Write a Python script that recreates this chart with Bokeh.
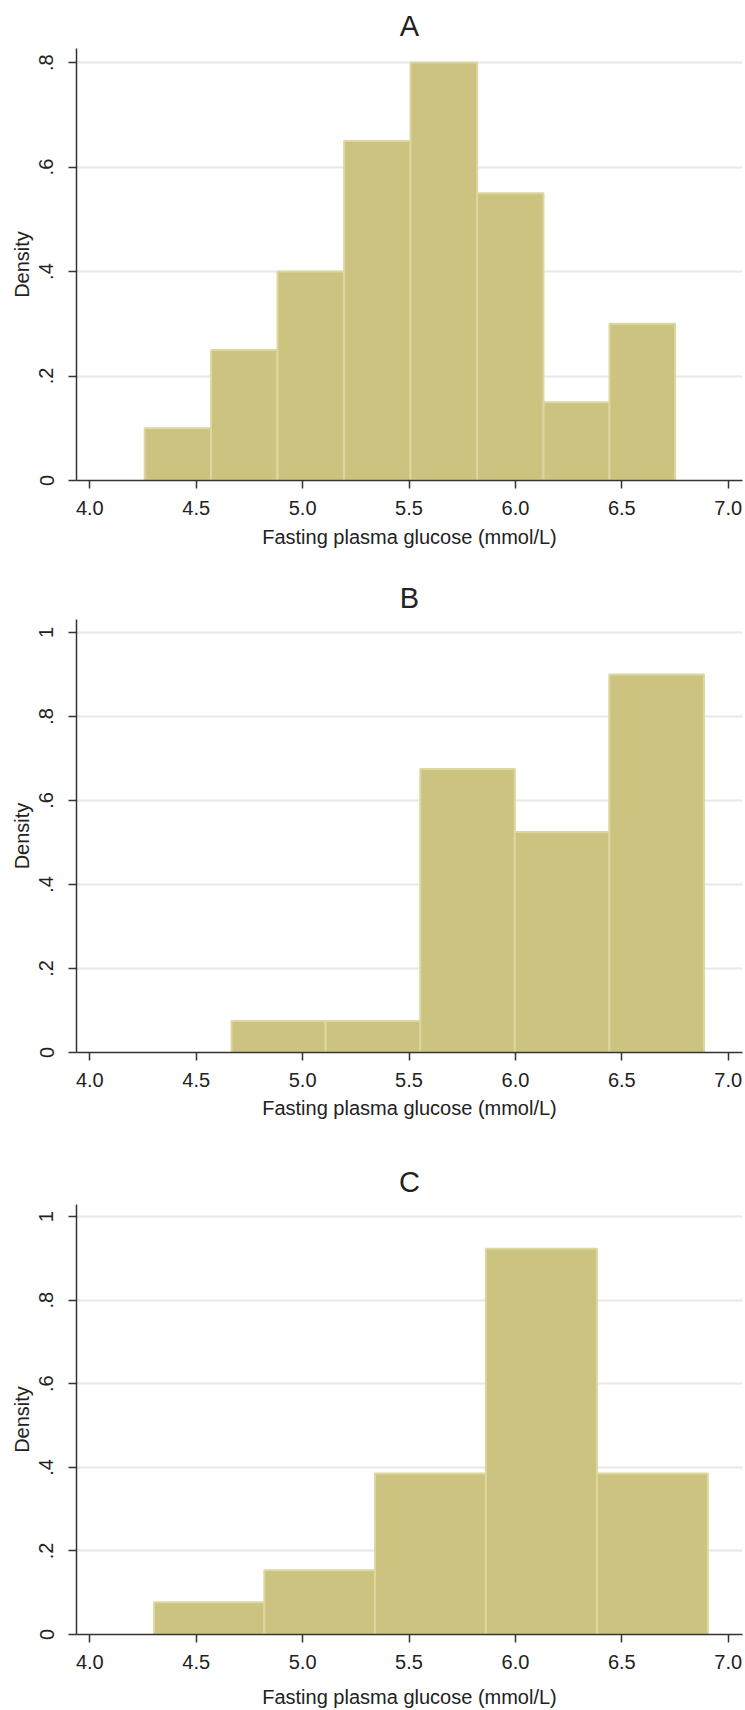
from bokeh.plotting import figure
from bokeh.layouts import column
from bokeh.models import Range1d, FixedTicker, ColumnDataSource
from bokeh.embed import file_html
from bokeh.resources import INLINE

# ---------------- data ----------------
panel_titles = ["A", "B", "C"]
x_label = "Fasting plasma glucose (mmol/L)"
y_label = "Density"
x_ticks = [4.0, 4.5, 5.0, 5.5, 6.0, 6.5, 7.0]
x_tick_labels = ["4.0", "4.5", "5.0", "5.5", "6.0", "6.5", "7.0"]

a_bin_edges = [4.258, 4.570, 4.882, 5.195, 5.507, 5.820, 6.132, 6.442, 6.750]
a_density = [0.10, 0.25, 0.40, 0.65, 0.80, 0.55, 0.15, 0.30]

b_bin_edges = [4.666, 5.108, 5.553, 5.997, 6.441, 6.886]
b_density = [0.075, 0.075, 0.675, 0.525, 0.90]

c_bin_edges = [4.302, 4.820, 5.340, 5.861, 6.383, 6.904]
c_density = [0.077, 0.154, 0.385, 0.923, 0.385]

a_y_ticks = [0, 0.2, 0.4, 0.6, 0.8]
a_y_tick_labels = ["0", ".2", ".4", ".6", ".8"]
bc_y_ticks = [0, 0.2, 0.4, 0.6, 0.8, 1.0]
bc_y_tick_labels = ["0", ".2", ".4", ".6", ".8", "1"]

# ---------------- style ----------------
FONT = "Liberation Sans"
TEXT = "#222222"
AXIS = "#333333"
FILL = "#CBC37F"
EDGE = "#DCD79E"
GRID = "#E8E8E8"


def make_panel(title, edges, dens, y_end, y_ticks, y_tick_labels,
               height, top_border, frame_h, label_standoff, title_standoff):
    bottom_border = height - top_border - frame_h
    p = figure(width=745, height=height,
               x_range=Range1d(3.9375, 7.067), y_range=Range1d(0, y_end),
               output_backend="svg", toolbar_location=None,
               min_border_left=76, min_border_right=3,
               min_border_top=top_border, min_border_bottom=bottom_border)
    p.outline_line_color = None
    p.background_fill_color = "white"
    p.border_fill_color = "white"

    src = ColumnDataSource(dict(left=edges[:-1], right=edges[1:], top=dens,
                                bottom=[0] * len(dens)))
    p.quad(left="left", right="right", top="top", bottom="bottom", source=src,
           fill_color=FILL, line_color=EDGE, line_width=2)

    p.title.text = title
    p.title.align = "center"
    p.title.text_font = FONT
    p.title.text_font_size = "29px"
    p.title.text_font_style = "normal"
    p.title.text_color = TEXT
    p.title.standoff = title_standoff

    # x axis
    xa = p.xaxis[0]
    xa.ticker = FixedTicker(ticks=x_ticks)
    xa.major_label_overrides = {t: l for t, l in zip(x_ticks, x_tick_labels)}
    xa.axis_label = x_label
    xa.minor_tick_line_color = None
    xa.major_tick_in = 0
    xa.major_tick_out = 8
    xa.major_tick_line_width = 1.5
    xa.major_tick_line_color = AXIS
    xa.axis_line_width = 1.5
    xa.axis_line_color = AXIS
    xa.major_label_text_font = FONT
    xa.major_label_text_font_size = "20px"
    xa.major_label_text_color = TEXT
    xa.major_label_standoff = 12
    xa.axis_label_text_font = FONT
    xa.axis_label_text_font_size = "20px"
    xa.axis_label_text_font_style = "normal"
    xa.axis_label_text_color = TEXT
    xa.axis_label_standoff = label_standoff

    # y axis
    ya = p.yaxis[0]
    ya.ticker = FixedTicker(ticks=y_ticks)
    ya.major_label_overrides = {t: l for t, l in zip(y_ticks, y_tick_labels)}
    ya.axis_label = y_label
    ya.minor_tick_line_color = None
    ya.major_tick_in = 0
    ya.major_tick_out = 8
    ya.major_tick_line_width = 1.5
    ya.major_tick_line_color = AXIS
    ya.axis_line_width = 1.5
    ya.axis_line_color = AXIS
    ya.major_label_orientation = "vertical"
    ya.major_label_text_font = FONT
    ya.major_label_text_font_size = "20px"
    ya.major_label_text_color = TEXT
    ya.major_label_standoff = 15
    ya.axis_label_text_font = FONT
    ya.axis_label_text_font_size = "20px"
    ya.axis_label_text_font_style = "normal"
    ya.axis_label_text_color = TEXT
    ya.axis_label_standoff = 4

    p.xgrid.grid_line_color = None
    p.ygrid.grid_line_color = GRID
    p.ygrid.grid_line_width = 2
    p.ygrid.ticker = FixedTicker(ticks=y_ticks)
    return p


pA = make_panel(panel_titles[0], a_bin_edges, a_density, 0.827, a_y_ticks, a_y_tick_labels,
                height=565, top_border=48, frame_h=432, label_standoff=8, title_standoff=14)
pB = make_panel(panel_titles[1], b_bin_edges, b_density, 1.031, bc_y_ticks, bc_y_tick_labels,
                height=575, top_border=54, frame_h=433, label_standoff=7, title_standoff=11)
pC = make_panel(panel_titles[2], c_bin_edges, c_density, 1.029, bc_y_ticks, bc_y_tick_labels,
                height=570, top_border=64, frame_h=432, label_standoff=14, title_standoff=13)

layout = column(pA, pB, pC)
open("out.html", "w").write(file_html(layout, INLINE))
